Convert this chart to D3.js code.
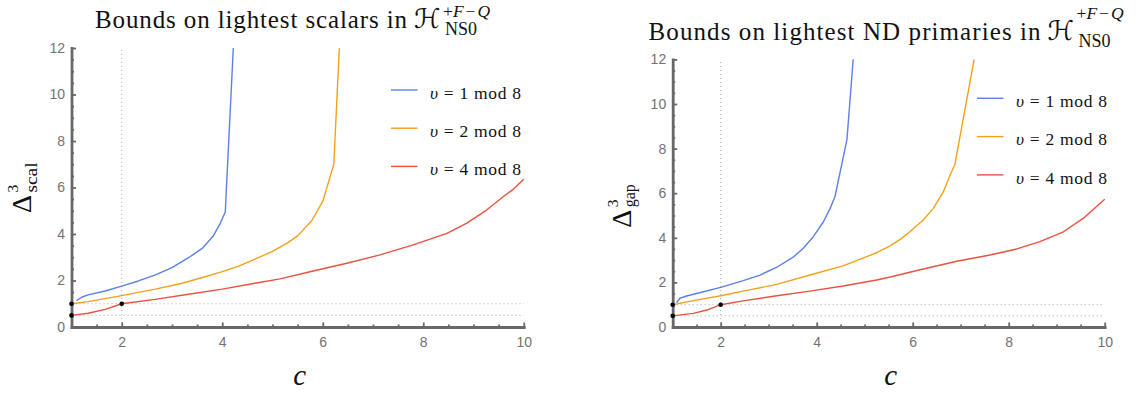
<!DOCTYPE html>
<html><head><meta charset="utf-8">
<script src="https://cdn.jsdelivr.net/npm/d3@7"></script>
<style>body{margin:0;background:#fff}svg{display:block}</style>
</head><body>
<svg id="chart" width="1140" height="396"></svg>
<script>
// ---------- data ----------
const cTicks = [2, 4, 6, 8, 10];
const vTicks = [0, 2, 4, 6, 8, 10, 12];
const legendLabels = ["1", "2", "4"];
const refPoints = [[1, 1], [1, 0.5], [2, 1]];

// left panel: Δ_scal bounds
const scalV1 = [[1.1,1.13],[1.2,1.28],[1.33,1.38],[1.67,1.55],[2,1.76],[2.33,1.98],[2.67,2.24],[3,2.55],[3.33,2.98],[3.6,3.38],[3.82,3.91],[3.96,4.46],[4.06,4.95],[4.22,12]];
const scalV2 = [[1,1],[1.33,1.09],[2,1.35],[2.67,1.63],[3.2,1.88],[3.66,2.16],[4,2.38],[4.33,2.62],[4.65,2.92],[5,3.25],[5.3,3.62],[5.5,3.92],[5.78,4.57],[6,5.4],[6.11,6.2],[6.22,7.0],[6.33,12]];
const scalV4 = [[1,0.5],[1.33,0.59],[1.67,0.76],[2,1],[2.66,1.19],[3.33,1.41],[4,1.63],[4.65,1.88],[5.15,2.07],[5.81,2.41],[6.48,2.74],[7.14,3.1],[7.8,3.53],[8.47,4.03],[8.86,4.46],[9.26,5.03],[9.59,5.6],[9.79,5.92],[10,6.35]];

// right panel: Δ_gap bounds
const gapV1 = [[1.08,1.09],[1.15,1.29],[1.29,1.39],[1.64,1.58],[2,1.78],[2.47,2.08],[2.82,2.33],[3.17,2.68],[3.51,3.13],[3.72,3.53],[3.93,4.05],[4.14,4.72],[4.28,5.32],[4.38,5.84],[4.63,8.4],[4.76,12]];
const gapV2 = [[1,1],[1.43,1.18],[2,1.4],[2.47,1.61],[3.17,1.91],[3.86,2.33],[4.55,2.74],[5.25,3.33],[5.53,3.64],[5.74,3.93],[5.94,4.27],[6.22,4.8],[6.43,5.32],[6.64,6.07],[6.78,6.82],[6.88,7.3],[7.28,12]];
const gapV4 = [[1,0.5],[1.43,0.61],[1.71,0.76],[2,1],[2.47,1.17],[3.17,1.4],[3.86,1.61],[4.55,1.84],[5.25,2.11],[5.53,2.24],[6.22,2.6],[6.92,2.95],[7.61,3.23],[8.17,3.5],[8.65,3.83],[9.14,4.27],[9.55,4.87],[10,5.73]];

// ---------- drawing ----------
const colors = ["#5b80e8", "#f5a01a", "#e9523e"];
const svg = d3.select("#chart");
const serif = "'Liberation Serif','Times New Roman',serif";
const sans = "'Liberation Sans',Arial,sans-serif";
const axisCol = "#686868";

function drawPanel(cfg) {
  const x = d3.scaleLinear().domain([1, 10]).range([cfg.x0, cfg.x1]);
  const y = d3.scaleLinear().domain([0, 12]).range([cfg.y0, cfg.y1]);
  const g = svg.append("g");

  // dotted reference lines
  const dot = sel => sel.attr("stroke", "#a8a8a8").attr("stroke-width", 1).attr("stroke-dasharray", "1,3");
  g.append("line").attr("x1", x(2)).attr("x2", x(2)).attr("y1", y(0)).attr("y2", y(12)).call(dot);
  [1, 0.5].forEach(v => g.append("line").attr("x1", x(1)).attr("x2", x(10)).attr("y1", y(v)).attr("y2", y(v)).call(dot));

  // axes
  const minorX = d3.range(1.5, 10, 0.5).filter(v => v % 2 !== 0);
  const minorY = d3.range(0.5, 12, 0.5).filter(v => v % 2 !== 0);
  const ax = g.append("g").attr("transform", `translate(0,${cfg.y0})`);
  ax.append("g").call(d3.axisBottom(x).tickValues(minorX).tickSize(-2.5).tickSizeOuter(0).tickFormat(""))
    .call(s => s.select(".domain").remove());
  ax.append("g").call(d3.axisBottom(x).tickValues(cTicks).tickSize(-4.5).tickSizeOuter(0).tickPadding(10));
  const ay = g.append("g").attr("transform", `translate(${cfg.x0},0)`);
  ay.append("g").call(d3.axisLeft(y).tickValues(minorY).tickSize(-2.5).tickSizeOuter(0).tickFormat(""))
    .call(s => s.select(".domain").remove());
  ay.append("g").call(d3.axisLeft(y).tickValues(vTicks).tickSize(-4.5).tickSizeOuter(0).tickPadding(6.5));
  g.selectAll(".domain").attr("stroke", axisCol).attr("stroke-width", 2.8).attr("stroke-linecap", "square");
  g.selectAll(".tick line").attr("stroke", axisCol).attr("stroke-width", 1.8);
  g.selectAll(".tick text").attr("fill", "#727272").attr("font-family", sans).attr("font-size", 14);

  // curves
  const line = d3.line().x(d => x(d[0])).y(d => y(d[1])).curve(d3.curveLinear);
  cfg.series.forEach((s, i) => {
    g.append("path").datum(s).attr("d", line).attr("fill", "none")
      .attr("stroke", colors[i]).attr("stroke-width", 1.4).attr("stroke-linejoin", "round");
  });

  // reference points
  g.selectAll("circle.ref").data(refPoints).join("circle").attr("class", "ref")
    .attr("cx", d => x(d[0])).attr("cy", d => y(d[1])).attr("r", 2.3).attr("fill", "#000");

  // legend
  legendLabels.forEach((lab, i) => {
    const ly = cfg.legY + i * cfg.legStep;
    g.append("line").attr("x1", cfg.legX).attr("x2", cfg.legX + 26.5).attr("y1", ly).attr("y2", ly)
      .attr("stroke", colors[i]).attr("stroke-width", 1.4);
    const t = g.append("text").attr("x", cfg.legX + 39).attr("y", ly + 8.8)
      .attr("font-family", serif).attr("font-size", 17.5).attr("fill", "#111")
      .attr("textLength", 91).attr("lengthAdjust", "spacing");
    t.append("tspan").attr("font-style", "italic").text("υ");
    t.append("tspan").text(" = " + lab + " mod 8");
  });

  // title
  const tt = cfg.title;
  g.append("text").attr("x", tt.x).attr("y", tt.base).attr("font-family", serif).attr("font-size", 25)
    .attr("fill", "#111").attr("textLength", tt.w).attr("lengthAdjust", "spacing").text(tt.text);
  g.append("text").attr("x", tt.hx + 15.5).attr("y", tt.base).attr("text-anchor", "middle")
    .attr("font-family", "'DejaVu Serif','DejaVu Sans',serif")
    .attr("font-size", 27).attr("font-style", "italic").attr("fill", "#111").text("ℋ");
  const sup = g.append("text").attr("x", tt.hx + 31.5).attr("y", tt.supBase).attr("font-family", serif)
    .attr("font-size", 17.5).attr("fill", "#111");
  sup.append("tspan").text("+");
  sup.append("tspan").attr("font-style", "italic").text("F");
  sup.append("tspan").attr("dx", 2).text("−");
  sup.append("tspan").attr("dx", 2).attr("font-style", "italic").text("Q");
  g.append("text").attr("x", tt.hx + 33.5).attr("y", tt.subBase).attr("font-family", serif)
    .attr("font-size", 18).attr("fill", "#111").text("NS0");

  // y label  Δ^3_sub  (rotated)
  const yl = g.append("g").attr("transform", `translate(${cfg.yl.x},${cfg.yl.y}) rotate(-90)`);
  yl.append("text").attr("x", -1).attr("y", 0).attr("font-family", serif).attr("font-size", 28).attr("fill", "#111").text("Δ");
  yl.append("text").attr("x", 19.5).attr("y", -13).attr("font-family", serif).attr("font-size", 15.5).attr("fill", "#111").text("3");
  yl.append("text").attr("x", 19.5).attr("y", cfg.yl.subDy).attr("font-family", serif).attr("font-size", 16.5)
    .attr("fill", "#111").attr("textLength", cfg.yl.subW).attr("lengthAdjust", "spacingAndGlyphs").text(cfg.yl.sub);

  // x label
  g.append("text").attr("x", (cfg.x0 + cfg.x1) / 2 + 2).attr("y", 385).attr("text-anchor", "middle")
    .attr("font-family", serif).attr("font-style", "italic").attr("font-size", 29).attr("fill", "#111").text("c");
}

drawPanel({
  x0: 71.5, x1: 523.75, y0: 327, y1: 48,
  series: [scalV1, scalV2, scalV4],
  legX: 391, legY: 90, legStep: 38.2,
  title: {text: "Bounds on lightest scalars in", x: 95, base: 27.5, w: 312, hx: 411.5, supBase: 16.5, subBase: 35},
  yl: {x: 31, y: 212, sub: "scal", subDy: 6, subW: 30}
});
drawPanel({
  x0: 672.7, x1: 1104.7, y0: 327, y1: 59.4,
  series: [gapV1, gapV2, gapV4],
  legX: 977, legY: 98.3, legStep: 38.3,
  title: {text: "Bounds on lightest ND primaries in", x: 648.6, base: 39.5, w: 392, hx: 1045, supBase: 19, subBase: 47},
  yl: {x: 630.7, y: 226.7, sub: "gap", subDy: 4, subW: 23}
});
</script>
</body></html>
